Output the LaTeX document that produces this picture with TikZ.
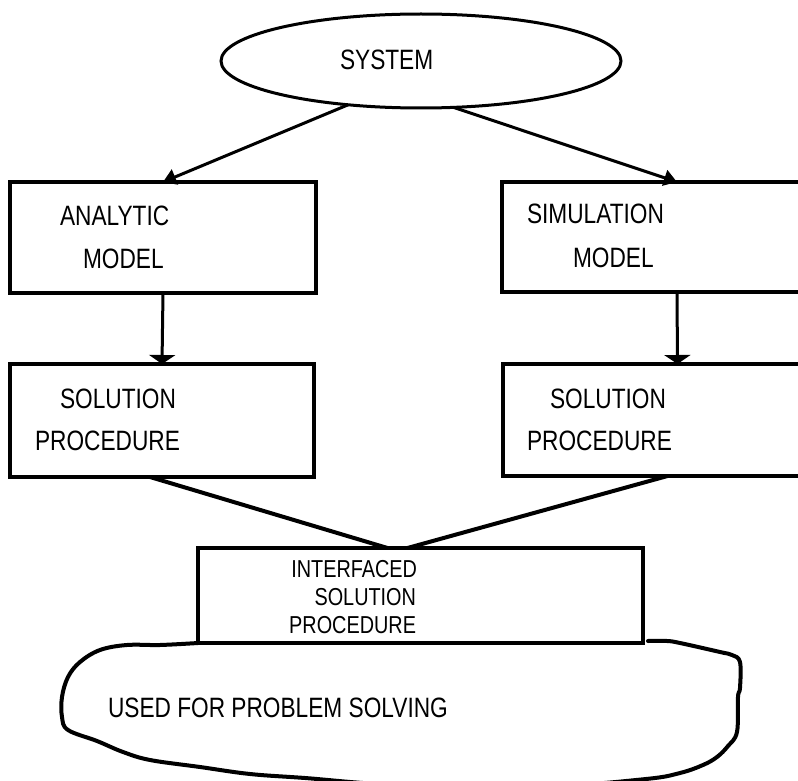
\documentclass[tikz,border=0pt]{standalone}
\usepackage{fontspec}
\setmainfont{Liberation Sans}[FakeStretch=0.81]
\usetikzlibrary{shapes.geometric,arrows.meta,calc}
\begin{document}
\begin{tikzpicture}[x=1pt,y=-1pt,
  box/.style={draw,rectangle,line width=4pt,inner sep=0pt,outer sep=0pt},
  lbl/.style={inner sep=0pt,outer sep=0pt,font=\fontsize{28}{32}\selectfont},
  slbl/.style={inner sep=0pt,outer sep=0pt,font=\fontsize{24.5}{28}\selectfont},
  varr/.style={line width=3pt,-{Triangle[width=26pt,length=9pt]}},
  darr/.style={line width=3pt,-{Triangle[width=16pt,length=13pt]}},
  link/.style={line width=4pt},
  cloud/.style={line width=4pt,line join=round,line cap=round}]
\useasboundingbox (0,0) rectangle (798,781);
\clip (0,0) rectangle (798,781);
% top ellipse
\node[draw,ellipse,line width=3pt,minimum width=400pt,minimum height=94pt,inner sep=0pt,outer sep=0pt] (sys) at (421,61) {};
\node[lbl,anchor=base west] (tsys) at (340,70) {SYSTEM};
% model boxes
\node[box,minimum width=306pt,minimum height=111pt] (am) at (163,237.5) {};
\node[box,minimum width=350pt,minimum height=110pt] (rm) at (677,237) {};
% solution boxes
\node[box,minimum width=304pt,minimum height=113pt] (ls) at (162,420.5) {};
\node[box,minimum width=349pt,minimum height=112pt] (rs) at (677.5,420) {};
% interfaced box
\node[box,minimum width=445pt,minimum height=95pt] (ib) at (420.5,595.5) {};
% texts
\node[lbl,anchor=base west] (t1) at (60,225) {ANALYTIC};
\node[lbl,anchor=base west] (t2) at (83,268) {MODEL};
\node[lbl,anchor=base west] (t3) at (527,223) {SIMULATION};
\node[lbl,anchor=base west] (t4) at (573,267) {MODEL};
\node[lbl,anchor=base west] (t5) at (60,408) {SOLUTION};
\node[lbl,anchor=base west] (t6) at (35,450) {PROCEDURE};
\node[lbl,anchor=base west] (t7) at (550,408) {SOLUTION};
\node[lbl,anchor=base west] (t8) at (527,450) {PROCEDURE};
\node[slbl,anchor=base east] (t9) at (417,577) {INTERFACED};
\node[slbl,anchor=base east] (t10) at (416,605) {SOLUTION};
\node[slbl,anchor=base east] (t11) at (416,633) {PROCEDURE};
\node[lbl,anchor=base west] (t12) at (108,717) {USED FOR PROBLEM SOLVING};
% connectors
\draw[darr] (sys.211) -- (am.north);
\draw[darr] (sys.305) -- (rm.north);
\draw[varr] (am.south) -- (ls.north);
\draw[varr] (rm.south) -- (rs.north);
\draw[link] ($(ls.south)+(-12,0)$) -- ($(ib.north)+(-33,0)$);
\draw[link] ($(rs.south)+(-10,0)$) -- ($(ib.north)+(-13,0)$);
% freehand cloud
\draw[cloud] plot[smooth,tension=0.6] coordinates {(ib.south west) (160,645) (127,645) (100,650) (80,662) (68,677) (62,697) (62,717) (68,730) (97,741) (123,752) (150,760) (200,767) (250,774) (305,778) (400,785) (550,786) (646,779) (680,773) (703,765) (717,757) (728,746) (737,732) (738,697) (740,688) (740,662) (732,655) (720,652) (680,643) (667,641) (648,641)};
\end{tikzpicture}
\end{document}
